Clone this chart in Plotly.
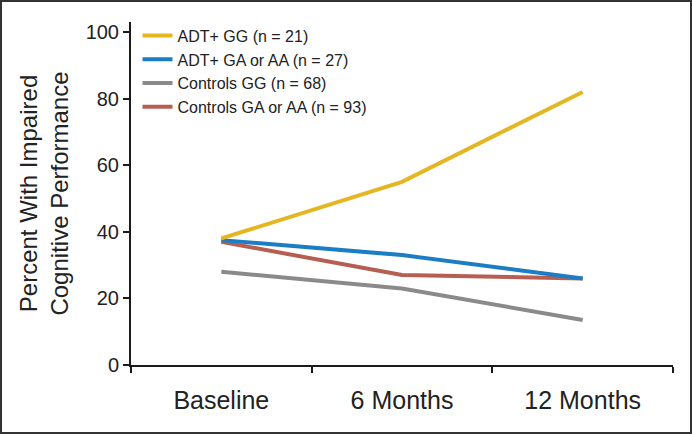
import plotly.graph_objects as go

# Data
timepoints = ["Baseline", "6 Months", "12 Months"]
adt_gg = [38, 55, 82]
adt_ga_aa = [37.5, 33, 26]
controls_gg = [28, 23, 13.5]
controls_ga_aa = [37, 27, 26]

series_names = [
    "ADT+ GG (n = 21)",
    "ADT+ GA or AA (n = 27)",
    "Controls GG (n = 68)",
    "Controls GA or AA (n = 93)",
]
series_colors = ["#E3B622", "#1B7DC3", "#8A8A8A", "#B65E52"]

W, H = 692, 434
ML, MR, MT, MB = 131, 19, 22, 69

fig = go.Figure()

# draw order: gray, red, blue, yellow; legend order set by legendrank
draw = [
    (2, controls_gg),
    (3, controls_ga_aa),
    (1, adt_ga_aa),
    (0, adt_gg),
]
for idx, vals in draw:
    fig.add_trace(go.Scatter(
        x=timepoints, y=vals, mode="lines",
        name=series_names[idx],
        line=dict(color=series_colors[idx], width=4),
        legendrank=idx + 1,
    ))

# frame around the whole figure
pw = W - ML - MR
ph = H - MT - MB
fig.add_shape(
    type="rect", xref="paper", yref="paper",
    x0=(-ML + 1) / pw, x1=1 + (MR - 1) / pw,
    y0=(-MB + 1) / ph, y1=1 + (MT - 1) / ph,
    line=dict(color="#333333", width=2),
)

fig.update_layout(
    width=W, height=H,
    margin=dict(l=ML, r=MR, t=MT, b=MB),
    paper_bgcolor="white", plot_bgcolor="white",
    font=dict(family="Liberation Sans, Arial, sans-serif", color="#222222"),
    showlegend=True,
    legend=dict(
        x=0.012, y=1.01, xanchor="left", yanchor="top",
        bgcolor="rgba(0,0,0,0)", font=dict(size=16),
        itemwidth=30, tracegroupgap=0,
    ),
    xaxis=dict(
        type="category", tickson="boundaries",
        range=[-0.5, 2.5],
        showline=True, linecolor="#1a1a1a", linewidth=2,
        ticks="outside", ticklen=6, tickwidth=1.5, tickcolor="#1a1a1a",
        showgrid=False, zeroline=False,
        tickfont=dict(size=25), ticklabelstandoff=12,
    ),
    yaxis=dict(
        range=[0, 103],
        tickvals=[0, 20, 40, 60, 80, 100],
        showline=True, linecolor="#1a1a1a", linewidth=2,
        ticks="outside", ticklen=6, tickwidth=1.5, tickcolor="#1a1a1a",
        showgrid=False, zeroline=False,
        tickfont=dict(size=20),
        title=dict(text="Percent With Impaired<br>Cognitive Performance",
                   font=dict(size=24), standoff=10),
    ),
)

fig.write_html("out.html", config={"displayModeBar": False},
               post_script="document.body.style.margin='0';")
